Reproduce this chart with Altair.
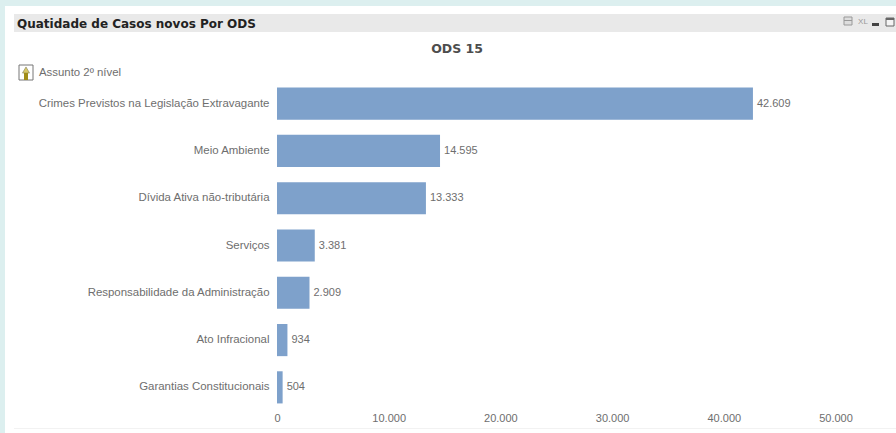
import altair as alt
import pandas as pd

# Novos casos por assunto de 2º nível, ODS 15
assuntos = [
    "Crimes Previstos na Legislação Extravagante",
    "Meio Ambiente",
    "Dívida Ativa não-tributária",
    "Serviços",
    "Responsabilidade da Administração",
    "Ato Infracional",
    "Garantias Constitucionais",
]
casos = [42609, 14595, 13333, 3381, 2909, 934, 504]
x_ticks = [0, 10000, 20000, 30000, 40000, 50000]

BAR = "#7ea1cb"
TEXT = "#6e6e6e"
FONT = "Liberation Sans"

df = pd.DataFrame({"assunto": assuntos, "casos": casos})
blank = alt.Data(values=[{"k": 0}])

# Plot area offsets inside the panel
LEFT, TOP, W, H = 277, 80, 619, 331
pt_format = "replace(format({}, ','), ',', '.')"


def box(x0, x1, y0, y1, color, **kw):
    """Panel furniture positioned in pixels relative to the plot area."""
    return alt.Chart(blank).mark_rect(color=color, **kw).encode(
        x=alt.value(x0 - LEFT), x2=alt.value(x1 - LEFT),
        y=alt.value(y0 - TOP), y2=alt.value(y1 - TOP),
    )


def label(x, y, text, **kw):
    return alt.Chart(blank).mark_text(text=text, **kw).encode(
        x=alt.value(x - LEFT), y=alt.value(y - TOP)
    )


x_scale = alt.Scale(domain=[0, W / 0.01117], nice=False, zero=True)
y_enc = alt.Y(
    "assunto:N", sort=assuntos, title=None,
    scale=alt.Scale(paddingInner=0.32, paddingOuter=0.16),
    axis=alt.Axis(labelFont=FONT, labelFontSize=11.45, labelColor=TEXT, ticks=False,
                  domain=False, labelPadding=8, labelLimit=280),
)

bars = alt.Chart(df).mark_bar(color=BAR).encode(
    x=alt.X(
        "casos:Q", scale=x_scale, title=None,
        axis=alt.Axis(values=x_ticks, grid=False, ticks=False, domain=False,
                      labelFont=FONT, labelFontSize=11, labelColor=TEXT, labelPadding=1,
                      labelFlush=False, labelExpr=pt_format.format("datum.value")),
    ),
    y=y_enc,
)
values = alt.Chart(df).transform_calculate(
    rotulo=pt_format.format("datum.casos")
).mark_text(align="left", dx=4, font=FONT, fontSize=11, color=TEXT).encode(
    x=alt.X("casos:Q", scale=x_scale),
    y=alt.Y("assunto:N", sort=assuntos),
    text="rotulo:N",
)

furniture = [
    box(0, 896, 0, 6, "#dcefef"),
    box(0, 5, 0, 433, "#dcefef"),
    box(14, 896, 14, 32, "#e9e9e9"),
    box(14, 896, 428, 429, "#f2f2f2"),
    # drill-up button
    box(19, 33, 65, 80, "#ffffff", stroke="#777777", strokeWidth=1),
    alt.Chart(blank).mark_point(shape="triangle-up", filled=True, color="#c9b020",
                                stroke="#4a4a20", strokeWidth=0.6, size=50).encode(
        x=alt.value(26 - LEFT), y=alt.value(70 - TOP)),
    box(24, 28, 73, 80, "#a08c18"),
    # window controls
    box(844, 852, 17, 25, "#dddddd", stroke="#999999", strokeWidth=1),
    box(844, 852, 20, 21, "#999999"),
    label(863, 21.5, "XL", font=FONT, fontSize=8, color="#999999"),
    box(872, 879, 23, 26, "#444444"),
    box(886, 894, 18, 26, "#f4f4f4", stroke="#666666", strokeWidth=1),
    box(886, 894, 18, 20, "#666666"),
    label(17, 23.5, "Quatidade de Casos novos Por ODS", font="DejaVu Sans", fontWeight="bold",
          fontSize=12, color="#222222", align="left"),
    label(457, 49, "ODS 15", font="DejaVu Sans", fontSize=12.5, fontWeight="bold", color="#4d4d4d"),
    label(39, 72.5, "Assunto 2º nível", font=FONT, fontSize=11.4, color=TEXT, align="left"),
]

chart = alt.layer(*furniture, bars, values).properties(
    width=W, height=H,
    padding={"left": LEFT, "top": TOP, "right": 0, "bottom": 22},
    autosize=alt.AutoSizeParams(type="none"),
    background="#ffffff",
).configure_view(stroke=None)

chart.save("out.html", embed_options={"renderer": "svg", "actions": False})
